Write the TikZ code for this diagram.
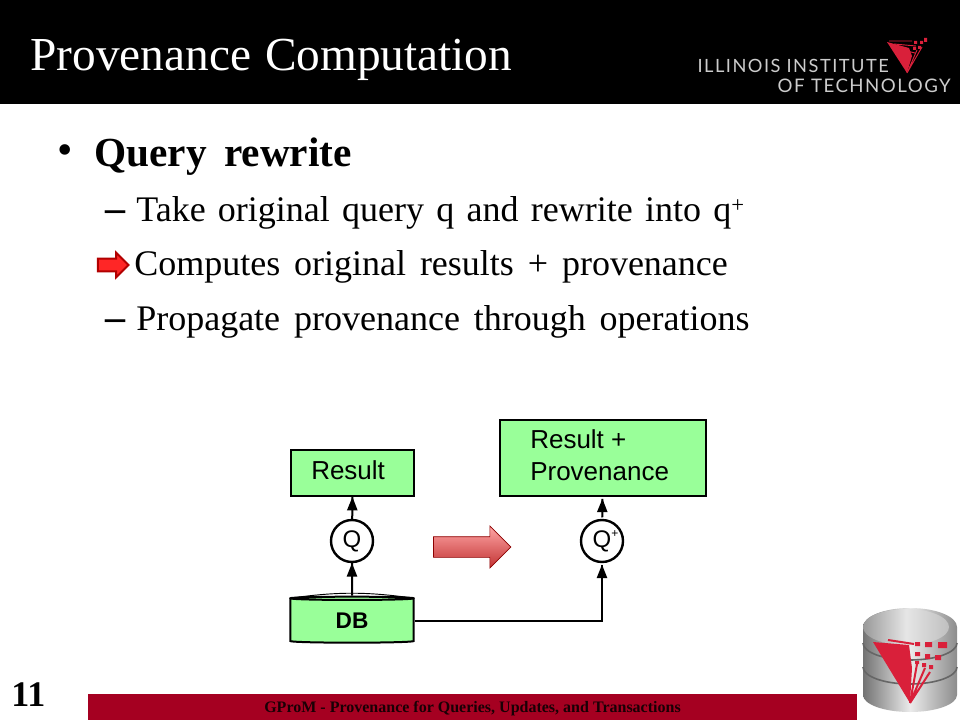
\documentclass[tikz,border=0pt]{standalone}
\usepackage{fontspec}
\setmainfont{Liberation Serif}
\newfontfamily\arialfont{Liberation Sans}
\newfontfamily\logofont[LetterSpace=8]{Lato}
\usepackage{amsmath}
\usetikzlibrary{decorations.markings,arrows.meta,shapes.geometric,shapes.arrows}
\definecolor{boxgreen}{HTML}{99FF99}
\definecolor{footred}{HTML}{A50021}
\definecolor{logored}{HTML}{D9203A}
\newcommand{\gapsize}[1]{\spaceskip #1\relax}
\tikzstyle{titletext}=[anchor=base west, inner sep=0pt, text=white, font=\fontsize{35.5}{40}\selectfont\gapsize{10.5pt}]
\tikzstyle{headtext}=[anchor=base west, inner sep=0pt, font=\bfseries\fontsize{31}{36}\selectfont\gapsize{13pt}]
\tikzstyle{subtext}=[anchor=base west, inner sep=0pt, font=\fontsize{27}{32}\selectfont\gapsize{10.4pt}]
\tikzstyle{dashtext}=[anchor=base west, inner sep=0pt, font=\bfseries\fontsize{30}{36}\selectfont]
\tikzstyle{logotext}=[anchor=base east, inner sep=0pt, text=black!20, font=\logofont\fontsize{14}{16}\selectfont]
\tikzstyle{greenbox}=[draw, fill=boxgreen, line width=1.5pt, inner sep=0pt, anchor=north west]
\tikzstyle{boxtext}=[anchor=base west, inner sep=0pt, font=\arialfont\fontsize{19.5}{24}\selectfont]
\tikzstyle{opnode}=[circle, draw, line width=1.8pt, fill=white, inner sep=0pt, minimum size=31.5pt, font=\arialfont\fontsize{18}{22}\selectfont]
\providecommand{\slidetext}{\node[subtext]}
\providecommand{\flowtext}{\node[boxtext]}
\begin{document}
\begin{tikzpicture}[x=0.75pt, y=-0.75pt,
    every edge/.style={
        draw, line width=1.5pt,
        postaction={decorate,
                    decoration={markings,mark=at position 1 with {\arrow[line width=0pt]{Triangle[width=8pt,length=10pt]}}}
                   }
        }
]
\useasboundingbox (0,0) rectangle (960,720);
\fill[white] (0,0) rectangle (960,720);
\fill[black] (0,0) rectangle (960,104);
\fill[footred] (88,694) rectangle (857,720);

\node[titletext] (title) at (30,71) {Provenance Computation};
\node[logotext, font=\logofont\fontsize{13.7}{16}\selectfont] (logo1) at (889,73) {ILLINOIS INSTITUTE};
\node[logotext] (logo2) at (951,93) {OF TECHNOLOGY};
\fill[logored] (887,42) -- (909,48) -- (912,56) -- (907,73) -- cycle;
\draw[logored, line width=0.7pt] (889,41) -- (912,41) (894,44) -- (916,46) (899,49) -- (915,53)
    (907,73) -- (917,50) (907,73) -- (922,47);
\fill[logored] (914,41) rectangle (917,44) (920,41) rectangle (923,44) (924,38) rectangle (927,42)
    (913,47) rectangle (916,50) (918,46) rectangle (921,49);

\node[anchor=base west, inner sep=0pt, font=\fontsize{33}{36}\selectfont] (dot) at (57,165) {•};
\node[headtext] (head) at (94,167) {Query rewrite};
\node[dashtext] (dash1) at (105,222) {–};
\slidetext (line1) at (136,222) {\gapsize{9.2pt}Take original query q and rewrite into q\rlap{\raisebox{7pt}{\fontsize{17}{17}\selectfont +}}};
\node[single arrow, draw=red!70!black, fill=red!85!white, line width=1.5pt, minimum height=23pt,
      single arrow head extend=4.5pt, inner xsep=0pt, inner ysep=4pt, single arrow head indent=0pt] (mark) at (110,265) {};
\slidetext (line2) at (134,276) {Computes original results + provenance};
\node[dashtext] (dash2) at (105,330) {–};
\slidetext (line3) at (136,330) {Propagate provenance through operations};

\node[greenbox, minimum width=92.5pt, minimum height=34.5pt] (result) at (290,449) {};
\node[greenbox, minimum width=154pt, minimum height=57pt, outer sep=2pt] (resultprov) at (497.5,417.5) {};
\flowtext (resultlabel) at (311,479) {Result};
\flowtext (plus) at (530,448) {Result +};
\flowtext (provlabel) at (530,480) {Provenance};
\node[opnode] (q) at (352,541) {Q};
\node[opnode, outer sep=2pt] (qplus) at (602,541) {Q\rlap{\raisebox{7pt}{\fontsize{9}{9}\selectfont +}}};
\node[cylinder, draw, fill=boxgreen, line width=1.5pt, shape border rotate=90, aspect=0.1, inner sep=0pt,
      minimum width=92.5pt, minimum height=34.5pt, font=\arialfont\bfseries\fontsize{17}{20}\selectfont] (db) at (352,621) {\raisebox{-3pt}{DB}};
\draw[line width=0.7pt] (db.before top) to[bend left=8] (db.after top);
\node[single arrow, draw=red!55!black, top color=red!35!white, bottom color=red!70!black!80!white, line width=0.5pt,
      minimum height=58pt, single arrow head extend=8pt, inner xsep=0pt, inner ysep=7.5pt,
      single arrow head indent=0pt] (bigarrow) at (467,547) {};
\path
(db.north) edge (q)
(q) edge (result)
(qplus) edge (resultprov)
(db.east) edge[to path={-| (\tikztotarget)}] (qplus)
;

\path[left color=black!55, right color=black!45, middle color=black!8] (863,627) -- (863,695)
    arc[start angle=180, end angle=0, x radius=47, y radius=17] -- (957,627)
    arc[start angle=0, end angle=-180, x radius=47, y radius=19];
\path[left color=black!40, right color=black!25, middle color=black!10] (906,627) ellipse [x radius=43, y radius=18];
\draw[black!60, line width=1.2pt] (863,643) arc[start angle=180, end angle=0, x radius=47, y radius=17]
    (863,667) arc[start angle=180, end angle=0, x radius=47, y radius=17];
\fill[logored] (873,642) -- (909,645) -- (912,668) -- (910,703) -- cycle;
\draw[logored, line width=1.5pt] (888,640) -- (914,644) (910,703) -- (917,664) (910,703) -- (925,668) (910,703) -- (930,672);
\fill[logored] (915,642) rectangle (920,646) (925,642) rectangle (932,647) (938,642) rectangle (947,648)
    (915,652) rectangle (920,656) (925,654) rectangle (930,659) (935,655) rectangle (941,660)
    (915,661) rectangle (919,664) (922,663) rectangle (926,667) (929,665) rectangle (933,669);

\node[anchor=base west, inner sep=0pt, font=\bfseries\fontsize{27}{30}\selectfont] (pagenum) at (11,706) {11};
\node[anchor=base, inner sep=0pt, text=black!85!footred, font=\bfseries\fontsize{12}{12}\selectfont] (footer) at (472.5,712) {GProM - Provenance for Queries, Updates, and Transactions};
\end{tikzpicture}
\end{document}
